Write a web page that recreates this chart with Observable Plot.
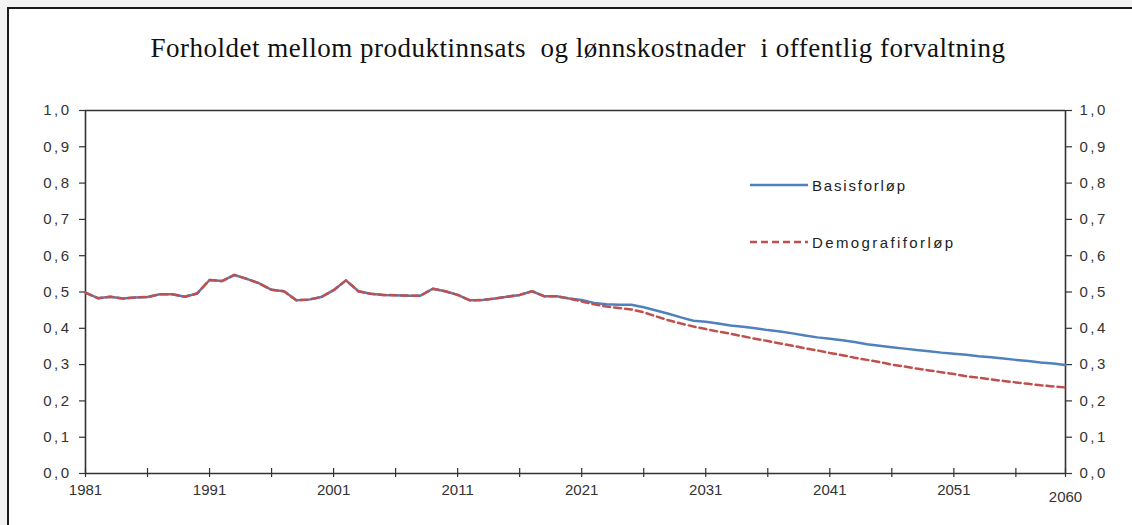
<!DOCTYPE html>
<html><head><meta charset="utf-8">
<script src="https://cdn.jsdelivr.net/npm/d3@7"></script>
<script src="https://cdn.jsdelivr.net/npm/@observablehq/plot@0.6"></script>
<style>
html{overflow:hidden;}
html,body{margin:0;padding:0;background:#f3f3f3;width:1132px;height:525px;}
body{overflow:hidden;position:relative;}
#frame{position:absolute;left:7px;top:7px;width:1200px;height:600px;background:#fff;border-left:2px solid #1a1a1a;border-top:2px solid #1a1a1a;}
#title{position:absolute;left:12px;top:32px;width:1132px;text-align:center;font-family:"Liberation Serif","Times New Roman",serif;font-size:27px;letter-spacing:0.5px;line-height:32px;color:#111;white-space:pre;}
#chart{position:absolute;left:0;top:90px;}
.leg{position:absolute;font-family:"Liberation Sans",Arial,sans-serif;font-size:15px;color:#222;display:flex;align-items:center;}
.leg svg{margin-right:4px;}
</style></head><body>
<div id="frame"></div>
<div id="title">Forholdet mellom produktinnsats  og lønnskostnader  i offentlig forvaltning</div>
<div id="chart"></div>
<script>
// Years on the x axis
const years = d3.range(1981, 2061);
// Historical ratio 1981-2020 (shared by both series)
const historical = [
  0.498, 0.483, 0.487, 0.482, 0.485, 0.486, 0.494, 0.494, 0.487, 0.496,
  0.533, 0.530, 0.547, 0.536, 0.524, 0.506, 0.502, 0.477, 0.479, 0.486,
  0.505, 0.532, 0.502, 0.495, 0.492, 0.491, 0.490, 0.490, 0.509, 0.502,
  0.492, 0.477, 0.478, 0.482, 0.487, 0.492, 0.502, 0.488, 0.488, 0.482
];
// Basisforløp projection 2021-2060
const basisProjection = [
  0.478, 0.470, 0.466, 0.465, 0.465, 0.458, 0.449, 0.440, 0.430, 0.421,
  0.418, 0.413, 0.408, 0.404, 0.400, 0.395, 0.391, 0.386, 0.380, 0.375,
  0.371, 0.367, 0.362, 0.356, 0.352, 0.348, 0.344, 0.340, 0.337, 0.333,
  0.330, 0.327, 0.323, 0.320, 0.317, 0.313, 0.310, 0.306, 0.303, 0.299
];
// Demografiforløp projection 2021-2060
const demografiProjection = [
  0.474, 0.466, 0.460, 0.456, 0.452, 0.444, 0.433, 0.422, 0.413, 0.405,
  0.398, 0.391, 0.385, 0.378, 0.371, 0.365, 0.358, 0.352, 0.345, 0.339,
  0.332, 0.326, 0.319, 0.313, 0.307, 0.300, 0.295, 0.289, 0.284, 0.279,
  0.274, 0.268, 0.264, 0.259, 0.255, 0.251, 0.247, 0.243, 0.240, 0.237
];
const seriesNames = ["Basisforløp", "Demografiforløp"];
const yTicks = [0, 0.1, 0.2, 0.3, 0.4, 0.5, 0.6, 0.7, 0.8, 0.9, 1.0];
const xLabelYears = [1981, 1991, 2001, 2011, 2021, 2031, 2041, 2051];
const xEndYear = [2060];
const xTickYears = [1981, 1986, 1991, 1996, 2001, 2006, 2011, 2016, 2021, 2026, 2031, 2036, 2041, 2046, 2051, 2056, 2060];

const basis = historical.concat(basisProjection);
const demografi = historical.concat(demografiProjection);
const rows = years.map((year, i) => ({year, basis: basis[i], demografi: demografi[i]}));

const BLUE = "#4f81bd", RED = "#c0504d", AX = "#333";
const fmt = d => d.toFixed(1).replace(".", ",");
const FS = 15;

const chart = Plot.plot({
  width: 1132, height: 435,
  marginLeft: 85, marginRight: 67, marginTop: 20, marginBottom: 52,
  style: {background: "transparent", fontFamily: '"Liberation Sans", Arial, sans-serif', fontSize: "15px", color: "#333"},
  x: {domain: [1981, 2060]},
  y: {domain: [0, 1]},
  marks: [
    Plot.axisY(yTicks, {anchor: "left", tickFormat: fmt, tickSize: 6, tickPadding: 8, fontSize: FS, label: null, stroke: AX, strokeWidth: 1.2}),
    Plot.axisY(yTicks, {anchor: "right", tickFormat: fmt, tickSize: 6, tickPadding: 8, fontSize: FS, label: null, stroke: AX, strokeWidth: 1.2}),
    Plot.axisX(xLabelYears, {anchor: "bottom", tickSize: 0, tickPadding: 11, fontSize: FS, tickFormat: d => String(d), label: null}),
    Plot.axisX(xEndYear, {anchor: "bottom", tickSize: 0, tickPadding: 18, fontSize: FS, tickFormat: d => String(d), label: null}),
    Plot.ruleX(xTickYears, {y1: 0, y2: 0, insetTop: -5, insetBottom: -4, stroke: AX, strokeWidth: 1.2}),
    Plot.ruleY([0, 1], {stroke: AX, strokeWidth: 1.6}),
    Plot.ruleX([1981, 2060], {stroke: AX, strokeWidth: 1.6}),
    Plot.line(rows, {x: "year", y: "basis", stroke: BLUE, strokeWidth: 2.5}),
    Plot.line(rows, {x: "year", y: "demografi", stroke: RED, strokeWidth: 2.5, strokeDasharray: "7,4"})
  ]
});
// spaced-out y tick labels, as in the original
chart.querySelectorAll('g[aria-label="y-axis tick label"] text').forEach(t => t.setAttribute("letter-spacing", "2.5"));
document.getElementById("chart").appendChild(chart);

// Legend (inside the plot area, as in the original)
const legendItems = [
  {name: seriesNames[0], color: BLUE, dash: null, top: 175, spacing: 1.8},
  {name: seriesNames[1], color: RED, dash: "7,4", top: 232, spacing: 2.4}
];
for (const it of legendItems) {
  const d = document.createElement("div");
  d.className = "leg";
  d.style.left = "750px";
  d.style.top = it.top + "px";
  d.style.height = "20px";
  d.style.letterSpacing = it.spacing + "px";
  d.innerHTML = `<svg width="58" height="6"><line x1="0" x2="58" y1="3" y2="3" stroke="${it.color}" stroke-width="2.5" ${it.dash ? `stroke-dasharray="${it.dash}"` : ""}/></svg><span>${it.name}</span>`;
  document.body.appendChild(d);
}
</script>
</body></html>
